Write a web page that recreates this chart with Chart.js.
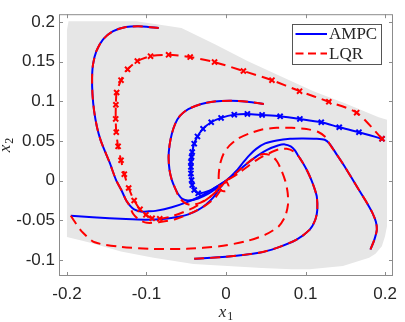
<!DOCTYPE html>
<html>
<head>
<meta charset="utf-8">
<script src="https://cdn.jsdelivr.net/npm/chart.js@4.4.0/dist/chart.umd.min.js"></script>
<style>
	html, body { margin: 0; padding: 0; background: #fff; }
	#wrap { width: 405px; height: 322px; }
</style>
</head>
<body>
<div id="wrap"><canvas id="phase" width="405" height="322"></canvas></div>
<script>
// Tick values on both axes.
var xTicks = [ -0.2, -0.1, 0, 0.1, 0.2 ];
var yTicks = [ -0.1, -0.05, 0, 0.05, 0.1, 0.15, 0.2 ];
var legendNames = [ 'AMPC', 'LQR' ];

// Grey region, outline as [x1, x2] pairs.
var region = [
	[ -0.198, 0.201 ], [ -0.113, 0.201 ], [ -0.085, 0.197 ], [ -0.056, 0.1925 ], [ -0.014, 0.172 ],
	[ 0.027, 0.151 ], [ 0.068, 0.132 ], [ 0.11, 0.113 ], [ 0.151, 0.097 ], [ 0.192, 0.08 ], [ 0.2025, 0.077 ],
	[ 0.2025, -0.057 ], [ 0.2, -0.07 ], [ 0.196, -0.0825 ], [ 0.188, -0.092 ], [ 0.18, -0.097 ],
	[ 0.147, -0.1075 ], [ 0.105, -0.1116 ], [ 0.083, -0.1116 ], [ 0.045, -0.11 ], [ -0.041, -0.105 ],
	[ -0.091, -0.097 ], [ -0.132, -0.089 ], [ -0.173, -0.0775 ], [ -0.2, -0.0708 ], [ -0.2, 0.19 ], [ -0.198, 0.201 ]
];

// Trajectory 1 (starts top left).
var ampc1 = [
	[ -0.0846, 0.1925 ], [ -0.1053, 0.1946 ], [ -0.1258, 0.1938 ], [ -0.1424, 0.1884 ], [ -0.1548, 0.178 ],
	[ -0.163, 0.1634 ], [ -0.1672, 0.1468 ], [ -0.1684, 0.13 ], [ -0.1679, 0.1093 ], [ -0.1659, 0.0884 ],
	[ -0.1622, 0.0675 ], [ -0.1576, 0.0509 ], [ -0.1527, 0.0384 ], [ -0.1465, 0.0234 ], [ -0.1382, 0.0009 ],
	[ -0.1316, -0.0116 ], [ -0.1258, -0.0241 ], [ -0.1205, -0.0316 ], [ -0.1155, -0.036 ], [ -0.1072, -0.0388 ],
	[ -0.097, -0.0385 ], [ -0.0887, -0.0379 ], [ -0.0681, -0.0333 ], [ -0.0474, -0.0263 ], [ -0.0289, -0.0179 ],
	[ -0.0165, -0.0104 ], [ -0.0078, -0.0048 ], [ 0, 0 ]
];
var lqr1 = [
	[ -0.0846, 0.1925 ], [ -0.1053, 0.1946 ], [ -0.1258, 0.1938 ], [ -0.1424, 0.1884 ], [ -0.1548, 0.178 ],
	[ -0.163, 0.1634 ], [ -0.1672, 0.1468 ], [ -0.1684, 0.13 ], [ -0.1679, 0.1093 ], [ -0.1659, 0.0884 ],
	[ -0.1622, 0.0675 ], [ -0.1576, 0.0509 ], [ -0.1527, 0.0384 ], [ -0.1465, 0.0234 ], [ -0.1382, 0.0009 ],
	[ -0.1316, -0.0116 ], [ -0.1258, -0.0241 ], [ -0.1217, -0.0304 ], [ -0.1168, -0.0416 ], [ -0.1093, -0.0491 ],
	[ -0.0994, -0.0529 ], [ -0.0846, -0.0523 ], [ -0.0639, -0.0485 ], [ -0.0433, -0.0404 ], [ -0.0267, -0.0316 ],
	[ -0.014, -0.0216 ], [ -0.0066, -0.0116 ], [ 0, 0 ]
];

// Trajectory 2 (starts right, sampled points carry markers).
var ampc2 = [
	[ 0.1962, 0.053 ], [ 0.1672, 0.0613 ], [ 0.1424, 0.0675 ], [ 0.1198, 0.0738 ], [ 0.0929, 0.078 ],
	[ 0.0681, 0.0813 ], [ 0.0454, 0.083 ], [ 0.0269, 0.0843 ], [ 0.0104, 0.0834 ], [ -0.0062, 0.0793 ],
	[ -0.0186, 0.0738 ], [ -0.0289, 0.0655 ], [ -0.0359, 0.0559 ], [ -0.04, 0.0468 ], [ -0.0425, 0.0363 ],
	[ -0.0433, 0.03 ], [ -0.0441, 0.0238 ], [ -0.0441, 0.0175 ], [ -0.0441, 0.0093 ], [ -0.0433, 0.0009 ],
	[ -0.0425, -0.0054 ], [ -0.04, -0.0116 ], [ -0.035, -0.0158 ]
];
var ampc2Tail = [ [ -0.02, -0.012 ], [ -0.008, -0.0055 ], [ 0, 0 ] ];
var lqr2 = [
	[ 0.1962, 0.053 ], [ 0.1643, 0.0859 ], [ 0.1293, 0.0996 ], [ 0.0925, 0.113 ], [ 0.0578, 0.1268 ],
	[ 0.0219, 0.1384 ], [ -0.0144, 0.1496 ], [ -0.045, 0.1559 ], [ -0.0722, 0.1588 ], [ -0.0949, 0.1571 ],
	[ -0.1115, 0.1509 ], [ -0.1238, 0.1405 ], [ -0.132, 0.1268 ], [ -0.1375, 0.1113 ], [ -0.1385, 0.0959 ],
	[ -0.1387, 0.078 ], [ -0.138, 0.0613 ], [ -0.1357, 0.0434 ], [ -0.132, 0.0259 ], [ -0.1279, 0.0084 ],
	[ -0.1224, -0.0091 ], [ -0.1155, -0.0248 ], [ -0.1081, -0.036 ], [ -0.1007, -0.0429 ], [ -0.0929, -0.0473 ],
	[ -0.0833, -0.0479 ]
];
var lqr2Tail = [ [ -0.066, -0.0441 ], [ -0.0412, -0.0341 ], [ -0.0202, -0.0204 ], [ -0.0078, -0.0079 ], [ 0, 0 ] ];

// Trajectory 3 (starts centre top).
var ampc3 = [
	[ 0.0476, 0.0968 ], [ 0.0269, 0.0996 ], [ 0.0062, 0.1009 ], [ -0.0144, 0.1 ], [ -0.031, 0.0968 ],
	[ -0.0474, 0.0905 ], [ -0.0577, 0.0821 ], [ -0.0639, 0.0718 ], [ -0.0681, 0.0593 ], [ -0.071, 0.0446 ],
	[ -0.0722, 0.0296 ], [ -0.071, 0.0134 ], [ -0.0681, 0.0009 ], [ -0.0639, -0.0095 ], [ -0.0598, -0.0173 ],
	[ -0.0549, -0.0229 ], [ -0.0474, -0.0248 ], [ -0.035, -0.0223 ], [ -0.0227, -0.0166 ], [ -0.0115, -0.0091 ],
	[ -0.0053, -0.0041 ], [ 0, 0 ]
];
var lqr3 = [
	[ 0.0476, 0.0968 ], [ 0.0269, 0.0996 ], [ 0.0062, 0.1009 ], [ -0.0144, 0.1 ], [ -0.031, 0.0968 ],
	[ -0.0474, 0.0905 ], [ -0.0577, 0.0821 ], [ -0.0639, 0.0718 ], [ -0.0681, 0.0593 ], [ -0.071, 0.0446 ],
	[ -0.0722, 0.0296 ], [ -0.071, 0.0134 ], [ -0.0681, 0.0009 ], [ -0.0639, -0.0095 ], [ -0.0598, -0.0191 ],
	[ -0.0536, -0.0266 ], [ -0.045, -0.0304 ], [ -0.0326, -0.0279 ], [ -0.0202, -0.0204 ], [ -0.009, -0.0104 ],
	[ 0, 0 ]
];

// Trajectory 4 (starts left).
var ampc4 = [
	[ -0.1952, -0.0441 ], [ -0.1676, -0.046 ], [ -0.1258, -0.0483 ], [ -0.1011, -0.0491 ], [ -0.0763, -0.0479 ],
	[ -0.0598, -0.0454 ], [ -0.0474, -0.0423 ], [ -0.035, -0.0366 ], [ -0.0251, -0.0298 ], [ -0.0165, -0.0216 ],
	[ -0.0103, -0.0129 ], [ -0.0053, -0.006 ], [ 0, 0 ]
];
var lqr4 = [
	[ -0.1952, -0.0441 ], [ -0.1886, -0.0541 ], [ -0.1812, -0.0641 ], [ -0.1651, -0.0775 ], [ -0.132, -0.0833 ],
	[ -0.0908, -0.0858 ], [ -0.0495, -0.0858 ], [ -0.0082, -0.0825 ], [ 0.0248, -0.0763 ], [ 0.0495, -0.0679 ],
	[ 0.0661, -0.0575 ], [ 0.0743, -0.045 ], [ 0.0779, -0.0304 ], [ 0.0776, -0.0154 ], [ 0.0746, -0.0004 ],
	[ 0.0696, 0.0134 ], [ 0.064, 0.0246 ], [ 0.0566, 0.0321 ], [ 0.0454, 0.0334 ], [ 0.0331, 0.0271 ],
	[ 0.0207, 0.0171 ], [ 0.0095, 0.0071 ], [ 0, 0 ]
];

// Trajectory 5 (starts bottom).
var ampc5 = [
	[ -0.04, -0.0983 ], [ 0, -0.0958 ], [ 0.0414, -0.0908 ], [ 0.064, -0.0845 ], [ 0.0888, -0.0741 ],
	[ 0.1053, -0.0616 ], [ 0.1123, -0.0491 ], [ 0.1148, -0.0366 ], [ 0.1142, -0.02 ], [ 0.1111, -0.0091 ],
	[ 0.1074, 0.0009 ], [ 0.1024, 0.0121 ], [ 0.0971, 0.0218 ], [ 0.0913, 0.0309 ], [ 0.0867, 0.0384 ],
	[ 0.0814, 0.0434 ], [ 0.0739, 0.0459 ], [ 0.0653, 0.0444 ], [ 0.0516, 0.039 ], [ 0.0393, 0.0315 ],
	[ 0.0269, 0.0221 ], [ 0.0145, 0.0115 ], [ 0.0058, 0.0046 ], [ 0, 0 ]
];
var lqr5 = [
	[ -0.04, -0.0983 ], [ 0, -0.0958 ], [ 0.0414, -0.0908 ], [ 0.064, -0.0845 ], [ 0.0888, -0.0741 ],
	[ 0.1053, -0.0616 ], [ 0.1123, -0.0491 ], [ 0.1148, -0.0366 ], [ 0.1142, -0.02 ], [ 0.1111, -0.0091 ],
	[ 0.1074, 0.0009 ], [ 0.1024, 0.0121 ], [ 0.0971, 0.0218 ], [ 0.0913, 0.0309 ], [ 0.0851, 0.0371 ],
	[ 0.0764, 0.0403 ], [ 0.0665, 0.0396 ], [ 0.0541, 0.0346 ], [ 0.0417, 0.0284 ], [ 0.0293, 0.0196 ],
	[ 0.017, 0.0103 ], [ 0.0071, 0.004 ], [ 0, 0 ]
];

// Trajectory 6 (starts bottom right).
var ampc6 = [
	[ 0.1817, -0.0866 ], [ 0.1866, -0.0741 ], [ 0.1897, -0.0616 ], [ 0.1885, -0.0516 ], [ 0.1841, -0.0404 ],
	[ 0.178, -0.0291 ], [ 0.1672, -0.0116 ], [ 0.1581, 0.0034 ], [ 0.1482, 0.0196 ], [ 0.1383, 0.0346 ],
	[ 0.1303, 0.0465 ], [ 0.1241, 0.0518 ], [ 0.1136, 0.0531 ], [ 0.095, 0.0534 ], [ 0.0805, 0.053 ],
	[ 0.064, 0.0509 ], [ 0.0492, 0.0471 ], [ 0.038, 0.0403 ], [ 0.0293, 0.0321 ], [ 0.0219, 0.0234 ],
	[ 0.0145, 0.014 ], [ 0.0071, 0.0065 ], [ 0, 0 ]
];
var lqr6 = [
	[ 0.1817, -0.0866 ], [ 0.1866, -0.0741 ], [ 0.1897, -0.0616 ], [ 0.1885, -0.0516 ], [ 0.1841, -0.0404 ],
	[ 0.178, -0.0291 ], [ 0.1672, -0.0116 ], [ 0.1581, 0.0034 ], [ 0.1482, 0.0196 ], [ 0.1383, 0.0346 ],
	[ 0.1303, 0.0465 ], [ 0.1259, 0.0546 ], [ 0.116, 0.0615 ], [ 0.1012, 0.0653 ], [ 0.0826, 0.0668 ],
	[ 0.064, 0.0668 ], [ 0.0454, 0.0646 ], [ 0.029, 0.0596 ], [ 0.0145, 0.0528 ], [ 0.0046, 0.0446 ],
	[ -0.0028, 0.0346 ], [ -0.0072, 0.0221 ], [ -0.009, 0.0096 ], [ -0.009, -0.0029 ], [ -0.0066, -0.0116 ],
	[ -0.0004, -0.0129 ], [ 0.0033, -0.0066 ], [ 0, 0 ]
];

( function () {
	'use strict';

	var BLUE  = '#0000ff';
	var RED   = '#ff0000';
	var GREY  = '#e6e6e6';
	var INK   = '#262626';
	var DASH  = [ 10, 6 ];
	var TICK  = 4;

	function toPoints( pairs ) {
		return pairs.map( function ( p ) {
			return { x: p[ 0 ], y: p[ 1 ] };
		} );
	}

	// One trajectory; the first `marked` samples get an x marker.
	function trace( pairs, color, dashed, order, marked ) {
		var n = marked || 0;
		return {
			data:             toPoints( pairs ),
			showLine:         true,
			borderColor:      color,
			backgroundColor:  color,
			borderWidth:      2,
			borderDash:       dashed ? DASH : [],
			tension:          0.25,
			fill:             false,
			order:            order,
			pointStyle:       'crossRot',
			pointBorderColor: color,
			pointBorderWidth: 2,
			pointRadius:      function ( c ) { return c.dataIndex < n ? 3.6 : 0; },
			pointHoverRadius: 0,
		};
	}

	function subLabel( ctx, sub, cx, cy, rotate ) {
		ctx.save();
		ctx.translate( cx, cy );
		if ( rotate ) {
			ctx.rotate( -Math.PI / 2 );
		}
		var main  = 'italic 17px "Liberation Serif", serif';
		var small = '12px "Liberation Serif", serif';
		ctx.font = main;
		var w1 = ctx.measureText( 'x' ).width;
		ctx.font = small;
		var w2 = ctx.measureText( sub ).width;
		var start = -( w1 + w2 + 1 ) / 2;
		ctx.fillStyle    = INK;
		ctx.textBaseline = 'alphabetic';
		ctx.textAlign    = 'left';
		ctx.font = main;
		ctx.fillText( 'x', start, 4 );
		ctx.font = small;
		ctx.fillText( sub, start + w1 + 1, 7 );
		ctx.restore();
	}

	// Box with inward ticks, legend and axis names, MATLAB style.
	var frame = {
		id: 'frame',
		afterDatasetsDraw: function ( chart ) {
			var ctx = chart.ctx;
			var a   = chart.chartArea;
			var xs  = chart.scales.x;
			var ys  = chart.scales.y;

			ctx.save();
			ctx.strokeStyle = '#8c8c8c';
			ctx.lineWidth   = 1;
			ctx.setLineDash( [] );
			ctx.strokeRect( a.left + 0.5, a.top + 0.5, a.width - 1, a.height - 1 );
			ctx.beginPath();
			xTicks.forEach( function ( v ) {
				var px = Math.round( xs.getPixelForValue( v ) ) + 0.5;
				ctx.moveTo( px, a.bottom );
				ctx.lineTo( px, a.bottom - TICK );
				ctx.moveTo( px, a.top );
				ctx.lineTo( px, a.top + TICK );
			} );
			yTicks.forEach( function ( v ) {
				var py = Math.round( ys.getPixelForValue( v ) ) + 0.5;
				ctx.moveTo( a.left, py );
				ctx.lineTo( a.left + TICK, py );
				ctx.moveTo( a.right, py );
				ctx.lineTo( a.right - TICK, py );
			} );
			ctx.stroke();

			// legend box
			var lx = Math.round( a.right - 101 );
			var ly = Math.round( a.top + 10 );
			var lw = 90;
			var lh = 41;
			ctx.fillStyle = '#fff';
			ctx.fillRect( lx, ly, lw, lh );
			ctx.strokeStyle = '#555';
			ctx.strokeRect( lx + 0.5, ly + 0.5, lw - 1, lh - 1 );

			var rows = [ { c: BLUE, dash: [] }, { c: RED, dash: [ 8, 4.5 ] } ];
			ctx.font         = '17px "Liberation Serif", serif';
			ctx.textBaseline = 'middle';
			ctx.textAlign    = 'left';
			rows.forEach( function ( r, i ) {
				var yy = ly + 10 + i * 19.5;
				ctx.strokeStyle = r.c;
				ctx.lineWidth   = 2;
				ctx.setLineDash( r.dash );
				ctx.beginPath();
				ctx.moveTo( lx + 3.5, yy );
				ctx.lineTo( lx + 35, yy );
				ctx.stroke();
				ctx.setLineDash( [] );
				ctx.fillStyle = INK;
				ctx.fillText( legendNames[ i ], lx + 37, yy + 1 );
			} );

			subLabel( ctx, '1', ( a.left + a.right ) / 2, 313, false );
			subLabel( ctx, '2', 6, ( a.top + a.bottom ) / 2, true );
			ctx.restore();
		},
	};

	var tickFont = { family: '"Liberation Sans", Arial, sans-serif', size: 17 };

	new Chart( document.getElementById( 'phase' ), {
		type: 'scatter',
		data: {
			datasets: [
				trace( lqr1, RED, true, 0 ),
				trace( lqr2.concat( lqr2Tail ), RED, true, 0, lqr2.length ),
				trace( lqr3, RED, true, 0 ),
				trace( lqr4, RED, true, 0 ),
				trace( lqr5, RED, true, 0 ),
				trace( lqr6, RED, true, 0 ),
				trace( ampc1, BLUE, false, 1 ),
				trace( ampc2.concat( ampc2Tail ), BLUE, false, 1, ampc2.length ),
				trace( ampc3, BLUE, false, 1 ),
				trace( ampc4, BLUE, false, 1 ),
				trace( ampc5, BLUE, false, 1 ),
				trace( ampc6, BLUE, false, 1 ),
				{
					data:            toPoints( region ),
					showLine:        true,
					fill:            'shape',
					backgroundColor: GREY,
					borderColor:     'rgba(0,0,0,0)',
					borderWidth:     0,
					pointRadius:     0,
					tension:         0,
					order:           2,
				},
			],
		},
		options: {
			responsive: false,
			animation:  false,
			events:     [],
			layout:     { padding: { left: 0, right: 6, top: 13, bottom: 0 } },
			plugins:    {
				legend:  { display: false },
				tooltip: { enabled: false },
			},
			scales: {
				x: {
					type: 'linear',
					min:  -0.21,
					max:  0.21,
					afterBuildTicks: function ( s ) {
						s.ticks = xTicks.map( function ( v ) { return { value: v }; } );
					},
					afterFit: function ( s ) { s.height = 46; },
					grid:   { display: false, drawTicks: false, tickLength: 0 },
					border: { display: false },
					ticks:  {
						padding:     8,
						color:       INK,
						font:        tickFont,
						maxRotation: 0,
						autoSkip:    false,
						callback:    function ( v ) { return String( v ); },
					},
				},
				y: {
					type: 'linear',
					min:  -0.12,
					max:  0.21,
					afterBuildTicks: function ( s ) {
						s.ticks = yTicks.map( function ( v ) { return { value: v }; } );
					},
					afterFit: function ( s ) { s.width = 59; },
					grid:   { display: false, drawTicks: false, tickLength: 0 },
					border: { display: false },
					ticks:  {
						padding:  4,
						color:    INK,
						font:     tickFont,
						autoSkip: false,
						callback: function ( v ) { return String( v ); },
					},
				},
			},
		},
		plugins: [ frame ],
	} );
} )();
</script>
</body>
</html>
